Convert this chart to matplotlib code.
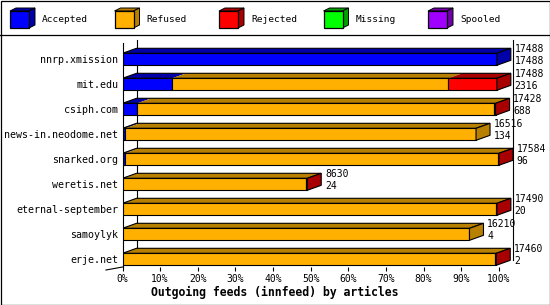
import matplotlib
matplotlib.use('Agg')
import matplotlib.pyplot as plt
from matplotlib.patches import Polygon, Rectangle

feeds = ['nnrp.xmission', 'mit.edu', 'csiph.com', 'news-in.neodome.net',
         'snarked.org', 'weretis.net', 'eternal-september', 'samoylyk', 'erje.net']
offered = [17488, 17488, 17428, 16516, 17584, 8630, 17490, 16210, 17460]
accepted = [17488, 2316, 688, 134, 96, 24, 20, 4, 2]
refused = [0, 12908, 16680, 16382, 17428, 8566, 17430, 16206, 17418]
rejected = [0, 2264, 60, 0, 60, 40, 40, 0, 40]
missing = [0, 0, 0, 0, 0, 0, 0, 0, 0]
spooled = [0, 0, 0, 0, 0, 0, 0, 0, 0]

series = ['Accepted', 'Refused', 'Rejected', 'Missing', 'Spooled']
front = ['#0000ff', '#ffb000', '#ff0000', '#00ff00', '#a000ff']
dark = ['#0000a8', '#b88000', '#a80000', '#00a000', '#7000a8']
xticks = list(range(0, 101, 10))

mono = 'DejaVu Sans Mono'
px = 3.764          # pixels per percent
DX = 14 / px        # depth in percent
DY = 5 / 25         # depth in rows
H = 6 / 25          # half height of front face

fig = plt.figure(figsize=(5.5, 3.05), dpi=100)

# frame + legend in pixel space
bg = fig.add_axes([0, 0, 1, 1])
bg.set_xlim(0, 550)
bg.set_ylim(305, 0)
bg.axis('off')
bg.add_patch(Rectangle((0.5, 0.5), 549, 304, fill=False, lw=0.9, ec='black'))
bg.plot([0, 550], [34.5, 34.5], color='black', lw=0.9)
for k, name in enumerate(series):
    x0 = 10 + k * 104.5
    bg.add_patch(Polygon([(x0, 11), (x0 + 19, 11), (x0 + 25, 8), (x0 + 6, 8)],
                         fc=dark[k], ec='black', lw=0.7))
    bg.add_patch(Polygon([(x0 + 19, 11), (x0 + 25, 8), (x0 + 25, 25), (x0 + 19, 28)],
                         fc=dark[k], ec='black', lw=0.7))
    bg.add_patch(Rectangle((x0, 11), 19, 17, fc=front[k], ec='black', lw=0.9))
    bg.text(x0 + 32, 20, name, family=mono, fontsize=6.8, va='center', ha='left')

# main plot
top_px, bot_px, left_px, right_px = 40, 267, 122.5, 513
ax = fig.add_axes([left_px / 550, 1 - bot_px / 305,
                   (right_px - left_px) / 550, (bot_px - top_px) / 305])
ax.set_facecolor('none')
ax.set_xlim(0, (right_px - left_px) / px)
ax.set_ylim((bot_px - 59.3) / 25, (top_px - 59.3) / 25)
for s in ax.spines.values():
    s.set_visible(False)

ytop = (top_px - 59.3) / 25
ybot = (bot_px - 59.3) / 25
ax.plot([0, 0], [ybot, ytop + DY * 0.6], color='black', lw=0.8, clip_on=False)
ax.plot([DX, DX], [ybot - DY, ytop], color='black', lw=0.8, clip_on=False)
ax.plot([100 + DX, 100 + DX], [(260 - 59.3) / 25, ytop], color='black', lw=0.8, clip_on=False)
ax.plot([0, -16.5 / px], [ybot, ybot + 3 / 25], color='black', lw=0.8, clip_on=False)

vmax = max(offered)
for i in range(len(feeds)):
    vals = [accepted[i], refused[i], rejected[i], missing[i], spooled[i]]
    left = 0
    last = 0
    for k, v in enumerate(vals):
        if v <= 0:
            continue
        w = v / vmax * 100
        x0, x1 = left, left + w
        ax.add_patch(Polygon([(x0, i - H), (x1, i - H), (x1 + DX, i - H - DY), (x0 + DX, i - H - DY)],
                             fc=dark[k], ec='none', zorder=2))
        ax.add_patch(Rectangle((x0, i - H), w, 2 * H, fc=front[k], ec='black', lw=0.8, zorder=3))
        left = x1
        last = k
    end = left
    ax.add_patch(Polygon([(0, i - H), (end, i - H), (end + DX, i - H - DY), (DX, i - H - DY)],
                         fill=False, ec='black', lw=0.8, zorder=4))
    ax.add_patch(Polygon([(end, i - H), (end + DX, i - H - DY), (end + DX, i + H - DY), (end, i + H)],
                         fc=dark[last], ec='black', lw=0.8, zorder=4))
    ax.text(end + DX + 1.0, i - 0.40, str(offered[i]), family=mono, fontsize=7,
            ha='left', va='center', zorder=5)
    ax.text(end + DX + 1.0, i + 0.06, str(accepted[i]), family=mono, fontsize=7,
            ha='left', va='center', zorder=5)

ax.set_yticks(range(len(feeds)))
ax.set_yticklabels(feeds, family=mono, fontsize=7.2)
ax.tick_params(axis='y', length=0, pad=3.2)
ax.set_xticks(xticks)
ax.set_xticklabels([f'{v}%' for v in xticks], family=mono, fontsize=7)
ax.tick_params(axis='x', direction='out', length=3.2, width=0.8, pad=1.5)

fig.text(275 / 550, 1 - 292 / 305, 'Outgoing feeds (innfeed) by articles',
         family=mono, fontsize=8.3, fontweight='bold', ha='center', va='center')

fig.savefig('out.png', dpi=100)
